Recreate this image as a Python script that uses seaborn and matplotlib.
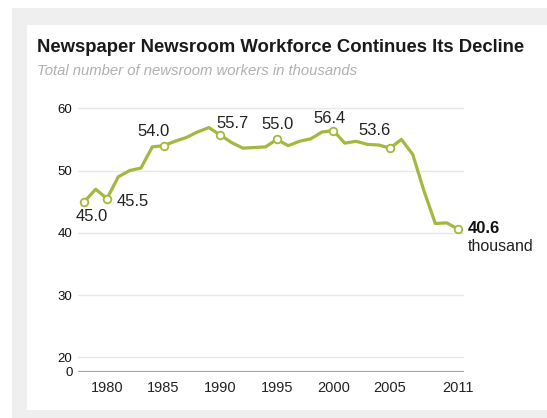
import seaborn as sns
import matplotlib.pyplot as plt
import pandas as pd
from matplotlib.patches import Rectangle

years = list(range(1978, 2012))
workers = [45.0, 47.0, 45.5, 49.0, 50.0, 50.4, 53.8, 54.0, 54.7, 55.3,
           56.2, 56.9, 55.7, 54.5, 53.6, 53.7, 53.8, 55.0, 54.0, 54.7,
           55.1, 56.2, 56.4, 54.4, 54.7, 54.2, 54.1, 53.6, 55.0, 52.6,
           46.7, 41.5, 41.6, 40.6]
label_years = [1978, 1980, 1985, 1990, 1995, 2000, 2005, 2011]
x_ticks = [1980, 1985, 1990, 1995, 2000, 2005, 2011]
y_ticks = [20, 30, 40, 50, 60]
zero_pos = 17.7  # broken axis: "0" drawn just under 20

df = pd.DataFrame({"year": years, "workers": workers})
marked = df[df["year"].isin(label_years)]

green = "#a3b83e"

sns.set_style("white")
plt.rcParams["font.family"] = ["Liberation Sans", "DejaVu Sans"]

fig = plt.figure(figsize=(5.47, 4.18), dpi=100)
fig.patch.set_facecolor("white")
fig.patches.append(Rectangle((12 / 547, 0), 1, 410 / 418, transform=fig.transFigure,
                             facecolor="#efefef", edgecolor="none", zorder=-2))
fig.patches.append(Rectangle((27 / 547, 8 / 418), 1, 385 / 418, transform=fig.transFigure,
                             facecolor="white", edgecolor="none", zorder=-1))

ax = fig.add_axes([78 / 547, 1 - 371.7 / 418, 386 / 547, 0.660])
ax.set_facecolor("none")

for yv in y_ticks:
    ax.axhline(yv, color="#e8e8e8", lw=1, zorder=0)
ax.axhline(zero_pos, color="#a8a8a8", lw=1.6, zorder=1)

sns.lineplot(data=df, x="year", y="workers", color=green, lw=2.3, ax=ax, zorder=3)
sns.scatterplot(data=marked, x="year", y="workers", ax=ax, zorder=4, s=30,
                facecolor="white", edgecolor=green, linewidth=1.3)

ax.set_xlim(1977.44, 2011.53)
ax.set_ylim(zero_pos, 62)
ax.set_xticks(x_ticks)
ax.set_xticklabels([str(x) for x in x_ticks], fontsize=10.5, color="#222222")
ax.set_yticks([zero_pos] + y_ticks)
ax.set_yticklabels(["0"] + [str(y) for y in y_ticks], fontsize=9.5, color="#111111")
ax.tick_params(axis="both", length=0)
ax.tick_params(axis="x", pad=7)
ax.tick_params(axis="y", pad=4)
ax.set_xlabel("")
ax.set_ylabel("")
sns.despine(ax=ax, left=True, bottom=True)

offsets = {1978: (5.3, -10.4, "center"), 1980: (7, -1.8, "left"),
           1985: (-7.2, 10.3, "center"), 1990: (8.6, 8.1, "center"),
           1995: (0.8, 10.7, "center"), 2000: (-2.6, 9.0, "center"),
           2005: (-11, 12.7, "center")}
for yr, (dx, dy, ha) in offsets.items():
    val = workers[years.index(yr)]
    ax.annotate(f"{val:.1f}", (yr, val), xytext=(dx, dy), textcoords="offset points",
                ha=ha, va="center", fontsize=12, color="#222222")

ax.annotate(f"{workers[-1]:.1f}", (years[-1], workers[-1]), xytext=(6.8, 0.4),
            textcoords="offset points", ha="left", va="center", fontsize=12,
            fontweight="bold", color="#111111", annotation_clip=False)
ax.annotate("thousand", (years[-1], workers[-1]), xytext=(6.8, -12.5),
            textcoords="offset points", ha="left", va="center", fontsize=11.5,
            color="#222222", annotation_clip=False)

fig.text(37 / 547, 1 - 47 / 418, "Newspaper Newsroom Workforce Continues Its Decline",
         fontsize=13.3, fontweight="bold", color="#1a1a1a", va="center", ha="left")
fig.text(37 / 547, 1 - 71 / 418, "Total number of newsroom workers in thousands",
         fontsize=10.7, style="italic", color="#b0b0b0", va="center", ha="left")

fig.savefig("out.png", dpi=100)
